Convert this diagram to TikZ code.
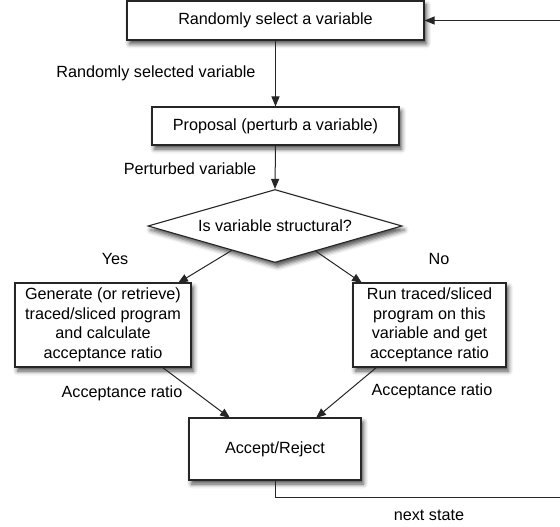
\documentclass[tikz,border=0pt]{standalone}
\usepackage{fontspec}
\setmainfont{Liberation Sans}
\usetikzlibrary{shapes.geometric,arrows.meta,shadows.blur,calc}
\tikzset{
  lbl/.style={font=\fontsize{16.2}{19.5}\selectfont, inner sep=0pt, align=center},
  boxnode/.style={lbl, draw=black!85, line width=1.1pt, fill=white, rectangle,
    blur shadow={shadow xshift=2.5pt, shadow yshift=-4pt, shadow blur radius=4.5pt, shadow opacity=70}},
  decnode/.style={lbl, draw=black!85, line width=1.1pt, fill=white, diamond, shape aspect=3.48,
    blur shadow={shadow xshift=2.5pt, shadow yshift=-4pt, shadow blur radius=4.5pt, shadow opacity=70}},
  conn/.style={draw=black!85, line width=1pt},
  arr/.style={conn, -{Triangle[length=10pt,width=8pt]}}
}
\begin{document}
\begin{tikzpicture}[x=1pt,y=-1pt]
\useasboundingbox (0,0) rectangle (560,527);
\node[boxnode, minimum width=297pt, minimum height=39pt] (sel) at (275.5,20.5) {Randomly select a variable};
\node[boxnode, minimum width=247pt, minimum height=38pt] (prop) at (275.5,126) {Proposal (perturb a variable)};
\node[decnode, minimum width=254pt, minimum height=73pt] (dec) at (275,226) {Is variable structural?};
\node[boxnode, minimum width=176pt, minimum height=84pt] (gen) at (103,325) {Generate (or retrieve)\\traced/sliced program\\and calculate\\acceptance ratio};
\node[boxnode, minimum width=153pt, minimum height=84pt] (run) at (429.5,325) {Run traced/sliced\\program on this\\variable and get\\acceptance ratio};
\node[boxnode, minimum width=172pt, minimum height=62pt] (acc) at (275,449) {Accept/Reject};

\node[lbl] (l1) at (156,73) {Randomly selected variable};
\node[lbl] (l2) at (190,169) {Perturbed variable};
\node[lbl] (lyes) at (115,259) {Yes};
\node[lbl] (lno) at (439,259) {No};
\node[lbl] (la1) at (122,393) {Acceptance ratio};
\node[lbl] (la2) at (432,391) {Acceptance ratio};
\node[lbl] (lnext) at (429,515) {next state};

\coordinate (b1) at (275,497);
\coordinate (b2) at (585,497);
\coordinate (b3) at (585,20.5);

\draw[arr] (sel.south) -- (prop.north);
\draw[arr] (prop.south) -- (dec.north);
\draw[arr] ($(dec.south)!0.34!(dec.west)$) -- (178,283);
\draw[arr] ($(dec.south)!0.32!(dec.east)$) -- (362,283);
\draw[arr] (162,367) -- (230,418);
\draw[arr] (377,367) -- (316,418);
\draw[conn] (acc.south) -- (b1) -- (b2) -- (b3);
\draw[arr] (b3) -- (sel.east);
\end{tikzpicture}
\end{document}
